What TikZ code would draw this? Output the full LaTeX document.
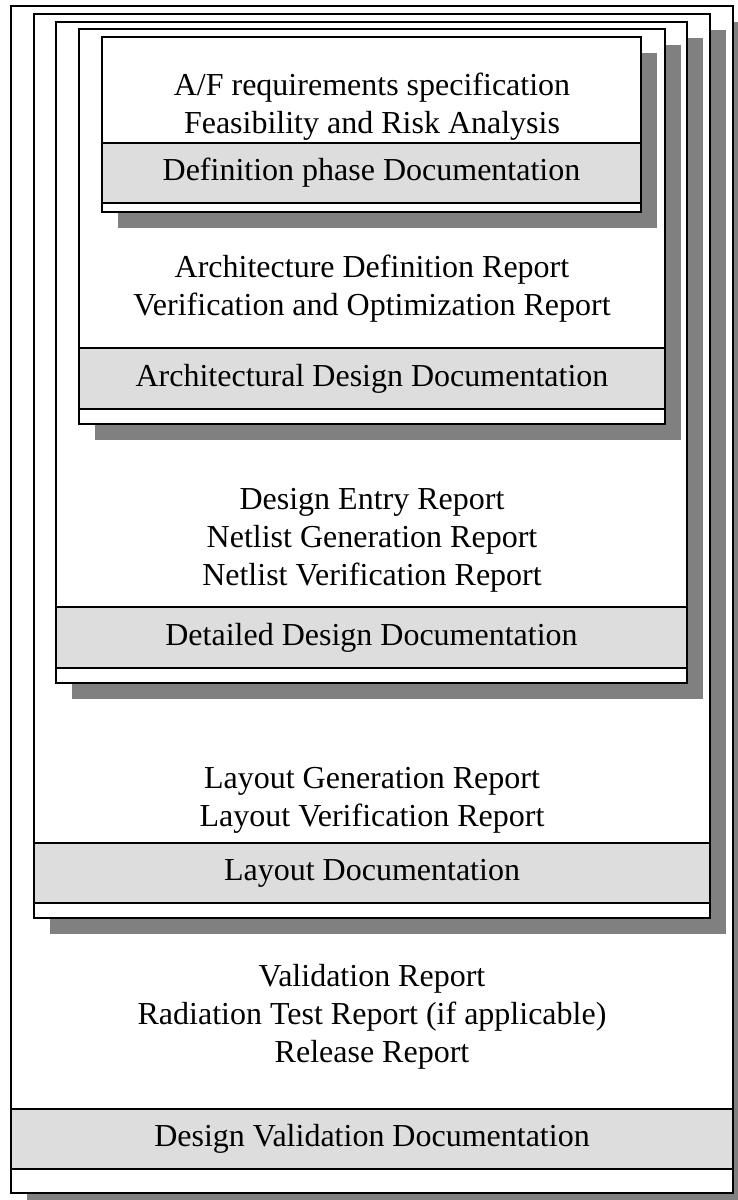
\documentclass[tikz,border=0pt]{standalone}
\usepackage{fontspec}
\setmainfont{Liberation Serif}
\usetikzlibrary{positioning, shadows}
\definecolor{bandgray}{HTML}{DDDDDD}
\definecolor{shadegray}{HTML}{808080}

\begin{document}
\begin{tikzpicture}[x=0.5pt, y=-0.5pt, every node/.style={font=\fontsize{16pt}{19pt}\selectfont}]
\tikzstyle{docbox} = [rectangle, draw=black, line width=0.8pt, fill=white, inner sep=0pt, outer sep=0pt, anchor=north west, drop shadow={shadow xshift=8pt, shadow yshift=-8pt, fill=shadegray, opacity=1}]
\tikzstyle{band} = [rectangle, draw=black, line width=0.8pt, fill=bandgray, inner sep=0pt, outer sep=0pt]
\tikzstyle{reports} = [align=center, anchor=base, inner sep=0pt]

\clip (0,0) rectangle (738,1200);

% Design validation (outermost box)
\node (valbox) [docbox, minimum width=361pt, minimum height=593.5pt] at (11,6) {};
\node (valband) [band, minimum width=361pt, minimum height=30pt, above=12pt of valbox.south] {Design Validation Documentation};
\node (valrep) [reports] at (372,1062) {Validation Report\\Radiation Test Report (if applicable)\\Release Report};

% Layout
\node (laybox) [docbox, minimum width=338pt, minimum height=452pt] at (34,14) {};
\node (layband) [band, minimum width=338pt, minimum height=30pt, above=7.5pt of laybox.south] {Layout Documentation};
\node (layrep) [reports] at (372,826) {Layout Generation Report\\Layout Verification Report};

% Detailed design
\node (detbox) [docbox, minimum width=315.5pt, minimum height=330.5pt] at (56,22) {};
\node (detband) [band, minimum width=315.5pt, minimum height=30.5pt, above=7.5pt of detbox.south] {Detailed Design Documentation};
\node (detrep) [reports] at (372,585) {Design Entry Report\\Netlist Generation Report\\Netlist Verification Report};

% Architectural design
\node (archbox) [docbox, minimum width=293pt, minimum height=197.5pt] at (79,29) {};
\node (archband) [band, minimum width=293pt, minimum height=30.5pt, above=7.5pt of archbox.south] {Architectural Design Documentation};
\node (archrep) [reports] at (372,315) {Architecture Definition Report\\Verification and Optimization Report};

% Definition phase (innermost box)
\node (defbox) [docbox, minimum width=269.5pt, minimum height=87.5pt] at (102,37) {};
\node (defband) [band, minimum width=269.5pt, minimum height=30pt, above=4.5pt of defbox.south] {Definition phase Documentation};
\node (defrep) [reports] at (372,133) {A/F requirements specification\\Feasibility and Risk Analysis};

\end{tikzpicture}
\end{document}
